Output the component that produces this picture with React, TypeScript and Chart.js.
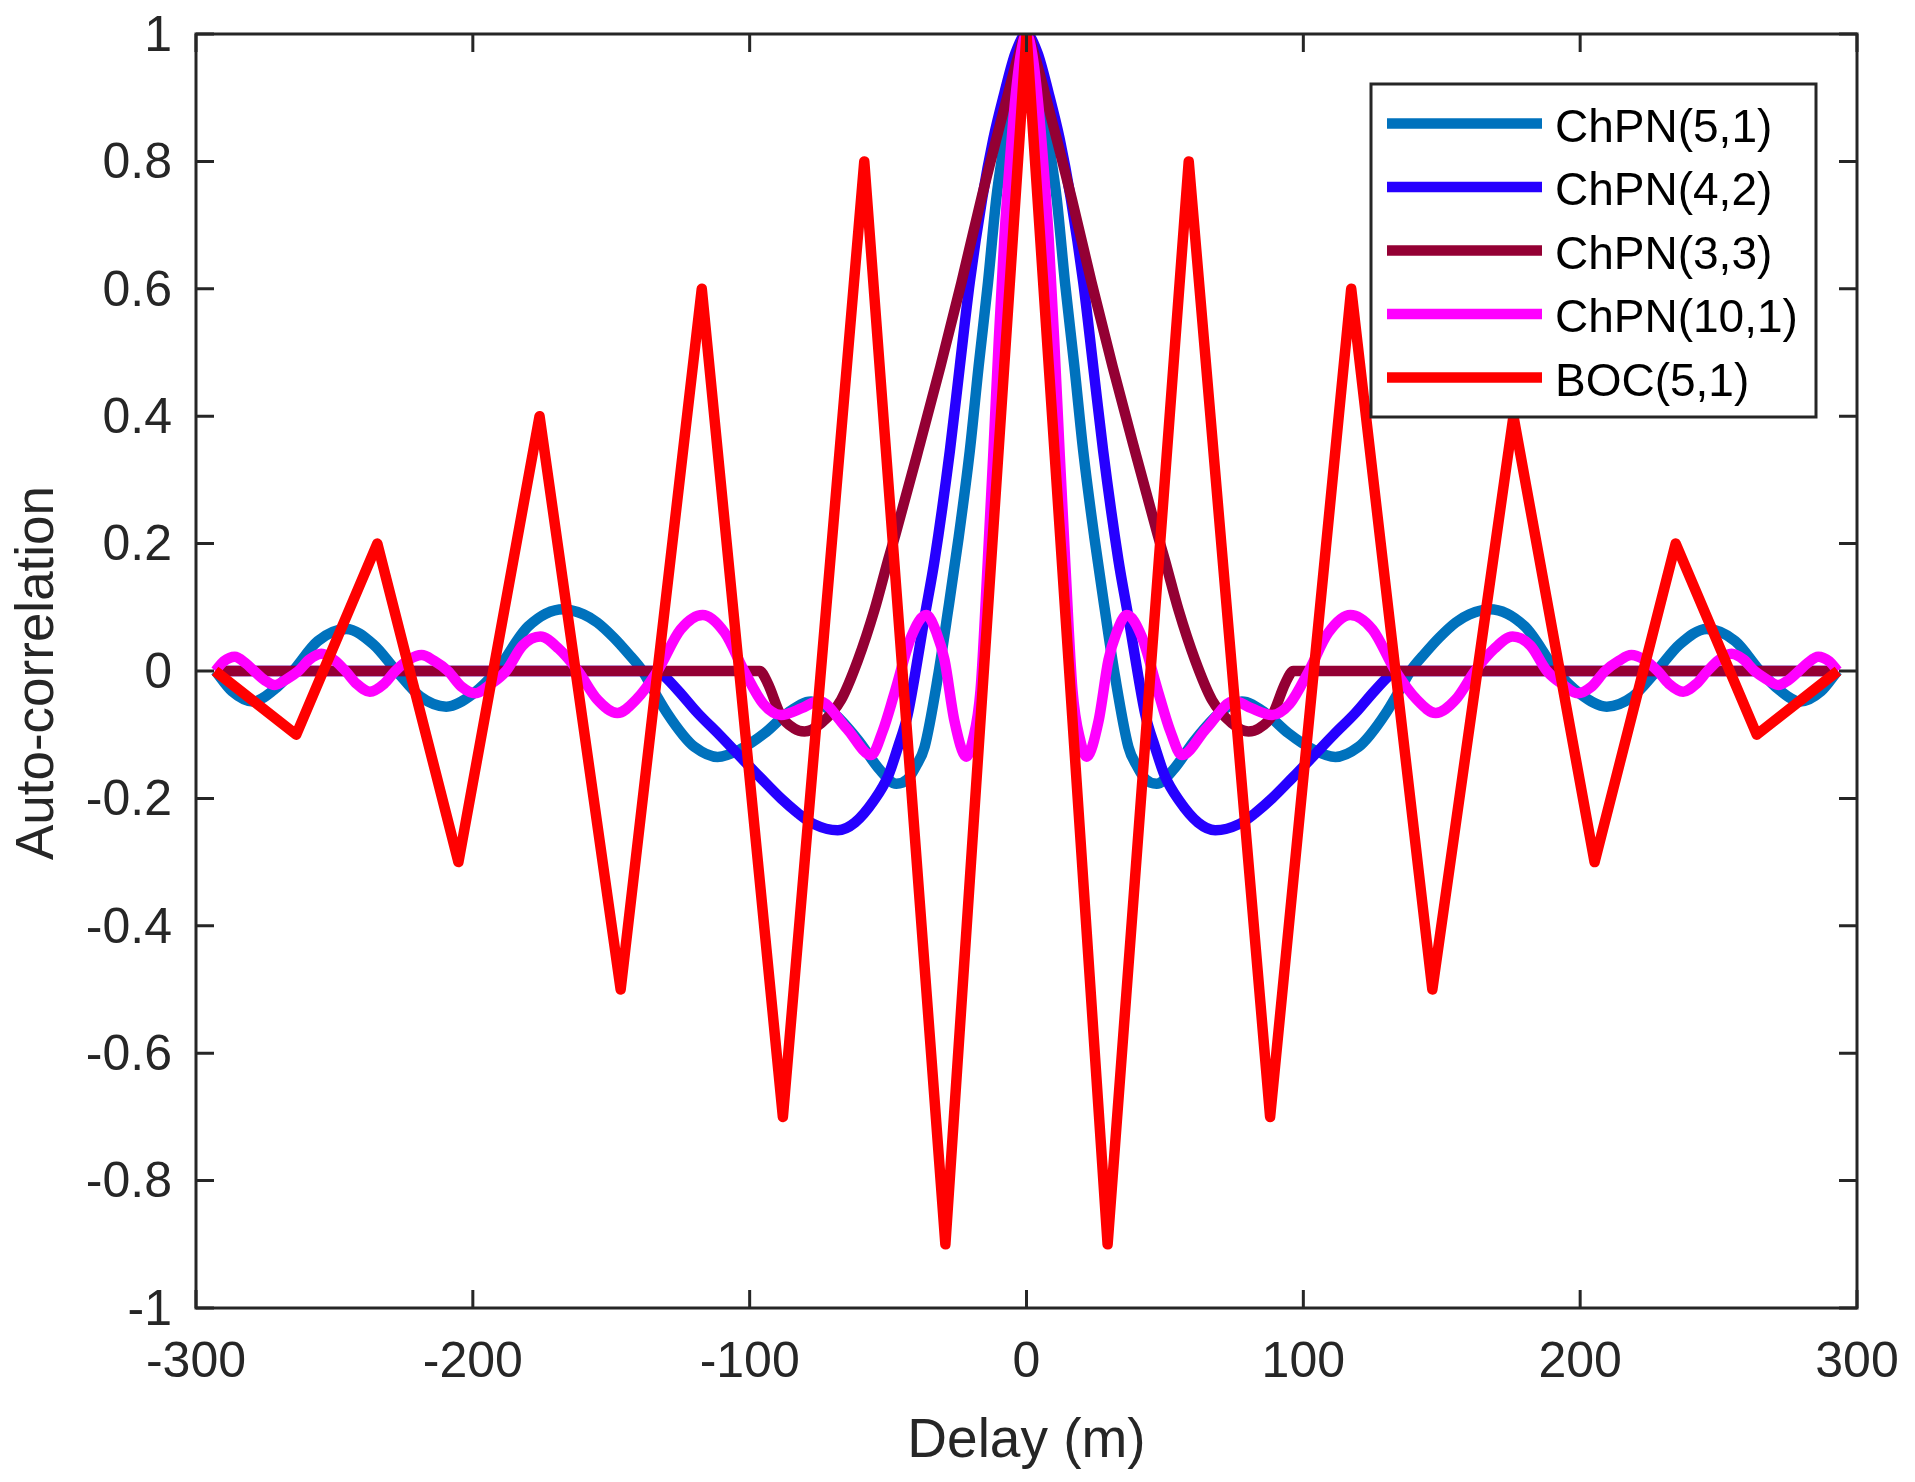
import { useEffect, useRef } from "react";
import { Chart, registerables } from "chart.js";
import type { Plugin, Scale } from "chart.js";

Chart.register(...registerables);

const W = 1915;
const H = 1482;
const FONT = '"Liberation Sans", Arial, Helvetica, sans-serif';

// Delay (m) / auto-correlation pairs
const chpn51: [number, number][] = [
  [-293, 0], [-287, -0.032], [-279.5, -0.048], [-272, -0.03], [-265, 0], [-256, 0.047],
  [-245.7, 0.066], [-236, 0.042], [-227.6, 0], [-219, -0.04], [-209.6, -0.056], [-200, -0.036],
  [-191.5, 0], [-180, 0.07], [-167.3, 0.097], [-160, 0.089], [-155, 0.076], [-149, 0.052],
  [-144, 0.028], [-138.7, 0], [-134, -0.036], [-129.7, -0.067], [-124, -0.101], [-120, -0.119],
  [-111.6, -0.135], [-103, -0.122], [-94.7, -0.098], [-86, -0.065],
  [-77.8, -0.048], [-70, -0.065], [-60.9, -0.108], [-53, -0.155], [-47, -0.177], [-43, -0.17],
  [-40, -0.15], [-36.8, -0.119], [-32, -0.009], [-28.3, 0.096], [-24.5, 0.21], [-20.5, 0.345],
  [-17.3, 0.478], [-13.9, 0.61], [-10.9, 0.742], [-8, 0.83], [-5, 0.915], [-2.5, 0.975], [0, 1],
  [2.5, 0.975], [5, 0.915], [8, 0.83], [10.9, 0.742], [13.9, 0.61], [17.3, 0.478], [20.5, 0.345],
  [24.5, 0.21], [28.3, 0.096], [32, -0.009], [36.8, -0.119], [40, -0.15], [43, -0.17], [47, -0.177],
  [53, -0.155], [60.9, -0.108], [70, -0.065], [77.8, -0.048], [86, -0.065], [94.7, -0.098],
  [103, -0.122], [111.6, -0.135], [120, -0.119], [124, -0.101], [129.7, -0.067], [134, -0.036],
  [138.7, 0], [144, 0.028], [149, 0.052], [155, 0.076], [160, 0.089], [167.3, 0.097], [180, 0.07],
  [191.5, 0], [200, -0.036], [209.6, -0.056],
  [219, -0.04], [227.6, 0], [236, 0.042], [245.7, 0.066], [256, 0.047], [265, 0], [272, -0.03],
  [279.5, -0.048], [287, -0.032], [293, 0],
];

const chpn42: [number, number][] = [
  [-293, 0], [-135, 0], [-132, -0.004], [-126, -0.03], [-118.8, -0.066], [-111, -0.1],
  [-103.1, -0.136], [-96, -0.168], [-88.7, -0.2], [-82.6, -0.223], [-77, -0.24], [-68.2, -0.25],
  [-62, -0.238], [-55, -0.2025], [-50, -0.165], [-46.4, -0.119], [-43, -0.07], [-40.4, -0.009],
  [-37, 0.08], [-33.2, 0.174], [-27.7, 0.345], [-24.1, 0.478], [-20.5, 0.61], [-16, 0.742],
  [-12, 0.835], [-8, 0.907], [-4, 0.97], [0, 1],
  [4, 0.97], [8, 0.907], [12, 0.835], [16, 0.742], [20.5, 0.61], [24.1, 0.478], [27.7, 0.345],
  [33.2, 0.174], [37, 0.08], [40.4, -0.009], [43, -0.07], [46.4, -0.119], [50, -0.165],
  [55, -0.2025], [62, -0.238], [68.2, -0.25], [77, -0.24], [82.6, -0.223], [88.7, -0.2],
  [96, -0.168], [103.1, -0.136], [111, -0.1], [118.8, -0.066], [126, -0.03], [132, -0.004],
  [135, 0], [293, 0],
];

const chpn33: [number, number][] = [
  [-293, 0], [-96.4, 0], [-93.5, -0.019], [-88.7, -0.07], [-84, -0.09], [-80.2, -0.095],
  [-74.2, -0.082], [-67, -0.0455], [-60.9, 0.017], [-54.9, 0.096], [-50, 0.174], [-47.4, 0.2135],
  [-39.2, 0.345], [-31.1, 0.478], [-23.5, 0.61], [-16.3, 0.742], [-6.6, 0.907], [-3, 0.965], [0, 1],
  [3, 0.965], [6.6, 0.907], [16.3, 0.742], [23.5, 0.61], [31.1, 0.478], [39.2, 0.345],
  [47.4, 0.2135], [50, 0.174], [54.9, 0.096], [60.9, 0.017], [67, -0.0455], [74.2, -0.082],
  [80.2, -0.095], [84, -0.09], [88.7, -0.07], [93.5, -0.019], [96.4, 0], [293, 0],
];

const chpn101: [number, number][] = [
  [-293, 0], [-290, 0.015], [-286, 0.0225], [-282, 0.012], [-279, 0], [-275, -0.015],
  [-271.6, -0.022], [-267, -0.012], [-263, 0], [-259, 0.018], [-254.7, 0.027], [-250, 0.017],
  [-246, 0], [-242, -0.02], [-237.2, -0.0325], [-232, -0.02], [-228, 0], [-223, 0.018],
  [-218.5, 0.025], [-214, 0.016], [-209, 0], [-204, -0.025], [-199, -0.035], [-194, -0.022],
  [-188, 0], [-182, 0.04], [-175.6, 0.054], [-169, 0.035], [-162, 0], [-155, -0.045],
  [-147.8, -0.066], [-141, -0.045], [-133.3, 0], [-125, 0.065], [-117, 0.088], [-109, 0.06],
  [-102, 0], [-95, -0.052], [-88.7, -0.069], [-81, -0.058], [-75, -0.047], [-65, -0.09],
  [-56.1, -0.132], [-52, -0.095], [-47.7, -0.035], [-41.6, 0.054], [-36.2, 0.088], [-32.5, 0.06],
  [-29.6, 0.017], [-26, -0.079], [-21.7, -0.1345], [-19.5, -0.11], [-16.6, -0.03], [-14, 0.17],
  [-12, 0.34], [-10, 0.52], [-8, 0.68], [-6, 0.8], [-4, 0.9], [-2, 0.97], [0, 1],
  [2, 0.97], [4, 0.9], [6, 0.8], [8, 0.68], [10, 0.52], [12, 0.34], [14, 0.17], [16.6, -0.03],
  [19.5, -0.11], [21.7, -0.1345], [26, -0.079], [29.6, 0.017], [32.5, 0.06], [36.2, 0.088],
  [41.6, 0.054], [47.7, -0.035], [52, -0.095], [56.1, -0.132], [65, -0.09], [75, -0.047],
  [81, -0.058], [88.7, -0.069], [95, -0.052], [102, 0], [109, 0.06], [117, 0.088], [125, 0.065],
  [133.3, 0], [141, -0.045], [147.8, -0.066], [155, -0.045], [162, 0], [169, 0.035],
  [175.6, 0.054], [182, 0.04], [188, 0], [194, -0.022], [199, -0.035], [204, -0.025], [209, 0],
  [214, 0.016], [218.5, 0.025], [223, 0.018], [228, 0], [232, -0.02], [237.2, -0.0325],
  [242, -0.02], [246, 0], [250, 0.017], [254.7, 0.027], [259, 0.018], [263, 0], [267, -0.012],
  [271.6, -0.022], [275, -0.015], [279, 0], [282, 0.012], [286, 0.0225], [290, 0.015], [293, 0],
];

// BOC(5,1) triangle vertices
const boc51: [number, number][] = [
  [-293.1, 0], [-263.8, -0.1], [-234.5, 0.2], [-205.2, -0.3], [-175.9, 0.4], [-146.6, -0.5],
  [-117.3, 0.6], [-88, -0.7], [-58.6, 0.8], [-29.3, -0.9], [0, 1], [29.3, -0.9], [58.6, 0.8],
  [88, -0.7], [117.3, 0.6], [146.6, -0.5], [175.9, 0.4], [205.2, -0.3], [234.5, 0.2],
  [263.8, -0.1], [293.1, 0],
];

const labels = ["ChPN(5,1)", "ChPN(4,2)", "ChPN(3,3)", "ChPN(10,1)", "BOC(5,1)"];
const colors = ["#0072BD", "#2600FF", "#940034", "#FF00FF", "#FF0000"];
const series = [chpn51, chpn42, chpn33, chpn101, boc51];

const AXIS = "#262626";

// chart.js adds label overhang + tick padding around the plot; we want fixed margins
function pinScale(s: Scale, size: { width?: number; height?: number }) {
  if (size.width !== undefined) s.width = size.width;
  if (size.height !== undefined) s.height = size.height;
  s.paddingLeft = 0;
  s.paddingRight = 0;
  s.paddingTop = 0;
  s.paddingBottom = 0;
}

const framePlugin: Plugin<"line"> = {
  id: "frame",
  afterDatasetsDraw(chart) {
    const { ctx, chartArea: a, scales } = chart;
    ctx.save();
    ctx.strokeStyle = AXIS;
    ctx.lineWidth = 3;
    ctx.beginPath();
    for (const t of scales.x.ticks) {
      const px = scales.x.getPixelForValue(t.value);
      ctx.moveTo(px, a.bottom);
      ctx.lineTo(px, a.bottom - 18);
      ctx.moveTo(px, a.top);
      ctx.lineTo(px, a.top + 18);
    }
    for (const t of scales.y.ticks) {
      const py = scales.y.getPixelForValue(t.value);
      ctx.moveTo(a.left, py);
      ctx.lineTo(a.left + 18, py);
      ctx.moveTo(a.right, py);
      ctx.lineTo(a.right - 18, py);
    }
    ctx.stroke();
    ctx.strokeRect(a.left, a.top, a.width, a.height);

    // axis titles
    ctx.fillStyle = AXIS;
    ctx.textAlign = "center";
    ctx.textBaseline = "alphabetic";
    ctx.font = `55px ${FONT}`;
    ctx.fillText("Delay (m)", (a.left + a.right) / 2, 1457);
    ctx.translate(53, 673);
    ctx.rotate(-Math.PI / 2);
    ctx.font = `53px ${FONT}`;
    ctx.fillText("Auto-correlation", 0, 0);
    ctx.restore();
  },
};

const legendPlugin: Plugin<"line"> = {
  id: "boxLegend",
  afterDraw(chart) {
    const { ctx, chartArea: a } = chart;
    const bw = 445;
    const bh = 333;
    const bx = a.right - 41 - bw;
    const by = a.top + 50;
    ctx.save();
    ctx.fillStyle = "#ffffff";
    ctx.fillRect(bx, by, bw, bh);
    ctx.strokeStyle = AXIS;
    ctx.lineWidth = 3;
    ctx.strokeRect(bx, by, bw, bh);
    ctx.font = `46px ${FONT}`;
    ctx.textAlign = "left";
    ctx.textBaseline = "alphabetic";
    chart.data.datasets.forEach((ds, i) => {
      const cy = by + 39.5 + i * 63.5;
      ctx.strokeStyle = ds.borderColor as string;
      ctx.lineWidth = 10.7;
      ctx.beginPath();
      ctx.moveTo(bx + 16, cy);
      ctx.lineTo(bx + 171, cy);
      ctx.stroke();
      ctx.fillStyle = "#000000";
      ctx.fillText(ds.label ?? "", bx + 184, cy + 18);
    });
    ctx.restore();
  },
};

export default function App() {
  const canvasRef = useRef<HTMLCanvasElement>(null);

  useEffect(() => {
    if (!canvasRef.current) return;
    const chart = new Chart(canvasRef.current, {
      type: "line",
      data: {
        datasets: series.map((pts, i) => ({
          label: labels[i],
          data: pts.map(([x, y]) => ({ x, y })),
          borderColor: colors[i],
          backgroundColor: colors[i],
          borderWidth: 10.5,
          pointRadius: 0,
          fill: false,
          tension: 0,
          cubicInterpolationMode: i === 4 ? "default" : "monotone",
          borderJoinStyle: "round",
          order: 5 - i,
          clip: 0,
        })),
      },
      options: {
        responsive: false,
        animation: false,
        devicePixelRatio: 1,
        layout: { padding: { top: 34, right: 58, left: 0, bottom: 0 } },
        plugins: { legend: { display: false }, tooltip: { enabled: false } },
        scales: {
          x: {
            type: "linear",
            min: -300,
            max: 300,
            afterFit: (s) => pinScale(s, { height: 174 }),
            grid: { display: false, drawTicks: false, tickLength: 0 },
            border: { display: false },
            ticks: {
              stepSize: 100,
              padding: 25,
              color: AXIS,
              font: { family: FONT, size: 50 },
              maxRotation: 0,
              autoSkip: false,
            },
          },
          y: {
            type: "linear",
            min: -1,
            max: 1,
            afterFit: (s) => pinScale(s, { width: 196 }),
            grid: { display: false, drawTicks: false, tickLength: 0 },
            border: { display: false },
            ticks: {
              stepSize: 0.2,
              padding: 24,
              labelOffset: 3,
              color: AXIS,
              font: { family: FONT, size: 50 },
              callback: (v) => String(Math.round(Number(v) * 10) / 10),
            },
          },
        },
      },
      plugins: [framePlugin, legendPlugin],
    });
    return () => chart.destroy();
  }, []);

  return (
    <div style={{ position: "absolute", left: 0, top: 0, width: W, height: H, background: "#fff" }}>
      <canvas ref={canvasRef} width={W} height={H} style={{ display: "block", width: W, height: H }} />
    </div>
  );
}
